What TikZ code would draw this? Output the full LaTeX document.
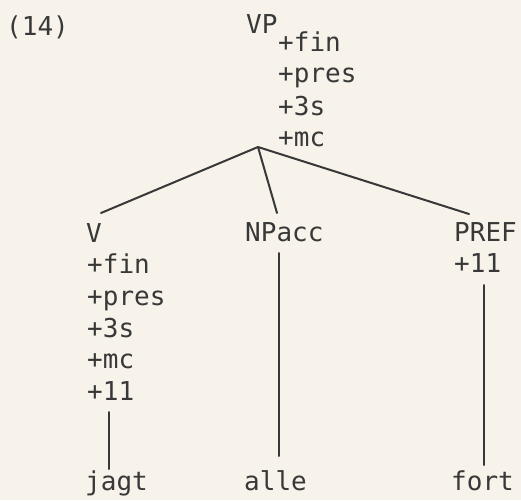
\documentclass[tikz,border=0pt]{standalone}
\usepackage{fontspec}
\newfontfamily\tw{DejaVu Sans Mono}
\definecolor{paper}{HTML}{F7F3EA}
\definecolor{ink}{HTML}{383838}
\tikzset{
  lbl/.style={anchor=base west, inner sep=0pt, text=ink, font=\tw\fontsize{26}{26}\selectfont},
  branch/.style={draw=ink, line width=2pt, line cap=round}
}
\begin{document}
\begin{tikzpicture}[x=1pt,y=-1pt]
\fill[paper] (0,0) rectangle (521,500);
\useasboundingbox (0,0) rectangle (521,500);
% labels
\node[lbl] (ex) at (6,36) {(14)};
\node[lbl] (VP) at (246,34) {VP};
\node[lbl] (vpf1) at (278,52) {+fin};
\node[lbl] (vpf2) at (278,83) {+pres};
\node[lbl] (vpf3) at (278,115) {+3s};
\node[lbl] (vpf4) at (278,146) {+mc};
\node[lbl] (V) at (86,242) {V};
\node[lbl] (vf1) at (87,273) {+fin};
\node[lbl] (vf2) at (87,305) {+pres};
\node[lbl] (vf3) at (87,337) {+3s};
\node[lbl] (vf4) at (87,368) {+mc};
\node[lbl] (vf5) at (87,400) {+11};
\node[lbl] (NP) at (245,241) {NPacc};
\node[lbl] (PREF) at (454,241) {PREF};
\node[lbl] (pf1) at (454,272) {+11};
\node[lbl] (jagt) at (85,490) {jagt};
\node[lbl] (alle) at (244,490) {alle};
\node[lbl] (fort) at (451,490) {fort};
% connector ends
\coordinate (apex) at (258,147);
\coordinate (Vtop) at (101,213);
\coordinate (NPtop) at (277,213);
\coordinate (PREFtop) at (469,214);
\coordinate (Vbot) at (109,412);
\coordinate (jagttop) at (109,469);
\coordinate (NPbot) at (279,253);
\coordinate (alletop) at (279,456);
\coordinate (PREFbot) at (484,285);
\coordinate (forttop) at (484,465);
% branches
\draw[branch] (apex) -- (Vtop);
\draw[branch] (apex) -- (NPtop);
\draw[branch] (apex) -- (PREFtop);
\draw[branch] (Vbot) -- (jagttop);
\draw[branch] (NPbot) -- (alletop);
\draw[branch] (PREFbot) -- (forttop);
\end{tikzpicture}
\end{document}
